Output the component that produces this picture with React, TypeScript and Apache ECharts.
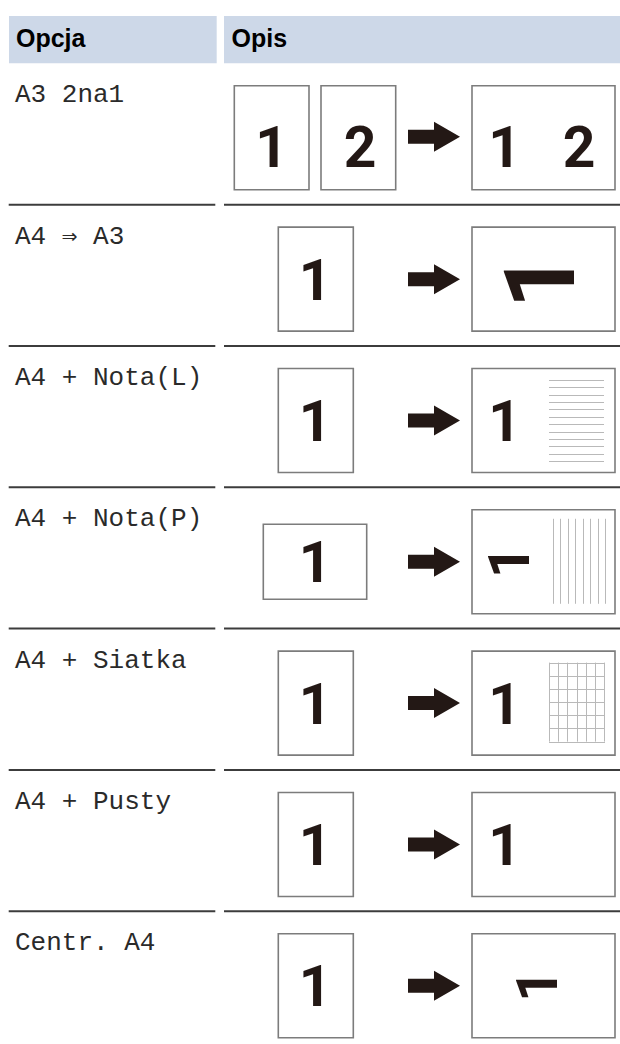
import React, { useEffect, useRef } from "react";
import * as echarts from "echarts";

// ---- table content ----
const headers = ["Opcja", "Opis"];
const optionLabels = [
  "A3 2na1",
  "A4 ⇒ A3",
  "A4 + Nota(L)",
  "A4 + Nota(P)",
  "A4 + Siatka",
  "A4 + Pusty",
  "Centr. A4",
];
// kind of source sheet per row
const sourceKinds = ["twoPortrait", "portrait", "portrait", "landscape", "portrait", "portrait", "portrait"];
// kind of result sheet per row
const resultKinds = ["twoUp", "rotatedLarge", "notesH", "notesV", "grid", "plain", "rotatedSmall"];
// ruled-lines count for note layouts, grid columns/rows
const noteLinesH = 12;
const noteLinesV = 8;
const gridCols = 6;
const gridRows = 6;

const INK = "#231815";
const PAGE_STROKE = "#7c7c7c";
const NOTE_STROKE = "#b9b9b9";
const RULE = "#3c3c3c";
const HEAD_BG = "#cdd8e8";
const DIGIT_FONT = 'Roboto, "Noto Sans", Arial, sans-serif';

function buildGraphics() {
  const els: any[] = [];
  const HEAD_TOP = 16;
  const HEAD_BOT = 63.3;
  const PITCH = 141.33;

  // header cells
  els.push({ type: "rect", shape: { x: 9, y: HEAD_TOP, width: 207.7, height: HEAD_BOT - HEAD_TOP }, style: { fill: HEAD_BG } });
  els.push({ type: "rect", shape: { x: 224, y: HEAD_TOP, width: 400, height: HEAD_BOT - HEAD_TOP }, style: { fill: HEAD_BG } });
  const headFont = { fontFamily: '"Liberation Sans", Arial, sans-serif', fontWeight: "bold", fontSize: 25, fill: "#000", verticalAlign: "middle", align: "left" };
  els.push({ type: "text", x: 16, y: 38, style: { ...headFont, text: headers[0] } });
  els.push({ type: "text", x: 231.5, y: 38, style: { ...headFont, text: headers[1] } });

  const page = (x: number, y: number, w: number, h: number) => ({
    type: "rect",
    shape: { x, y, width: w, height: h },
    style: { fill: "#fff", stroke: PAGE_STROKE, lineWidth: 1.6 },
  });
  const digit = (t: string, cx: number, cy: number, size: number, rot = 0) => ({
    type: "text",
    x: cx,
    y: cy,
    rotation: rot,
    style: {
      text: t,
      fontFamily: DIGIT_FONT,
      fontWeight: "bold",
      fontSize: size,
      fill: INK,
      align: "center",
      verticalAlign: "middle",
    },
  });
  const arrow = (cy: number) => ({
    type: "polygon",
    shape: {
      points: [
        [408, cy - 7],
        [434, cy - 7],
        [434, cy - 15],
        [460, cy],
        [434, cy + 15],
        [434, cy + 7],
        [408, cy + 7],
      ],
    },
    style: { fill: INK },
  });

  optionLabels.forEach((label, i) => {
    const T = HEAD_BOT + PITCH * i;
    if (i > 0) {
      els.push({ type: "line", shape: { x1: 8.7, y1: T, x2: 215.3, y2: T }, style: { stroke: RULE, lineWidth: 2 } });
      els.push({ type: "line", shape: { x1: 224, y1: T, x2: 620, y2: T }, style: { stroke: RULE, lineWidth: 2 } });
    }
    els.push({
      type: "text",
      x: 15,
      y: T + 32,
      style: {
        text: label,
        fontFamily: '"Courier New", "Liberation Mono", monospace',
        fontSize: 26,
        fill: "#2a2a2a",
        align: "left",
        verticalAlign: "middle",
      },
    });

    const pTop = T + 22.5;
    const pH = 104;
    const cy = pTop + pH / 2;
    const dCy = i === 0 ? T + 84 : T + 75.5;
    const oneDx = 1.7; // ink offset of bold "1"

    // source
    const sk = sourceKinds[i];
    if (sk === "twoPortrait") {
      els.push(page(234.3, pTop, 74.7, pH));
      els.push(digit("1", 270 + oneDx, dCy, 57));
      els.push(page(321, pTop, 74.7, pH));
      els.push(digit("2", 360, dCy, 57));
    } else if (sk === "portrait") {
      els.push(page(278.3, pTop, 75, pH));
      els.push(digit("1", 313.3 + oneDx, dCy, 57));
    } else {
      els.push(page(263.3, cy - 37.5, 103.4, 75));
      els.push(digit("1", 313.3 + oneDx, dCy, 57));
    }

    els.push(arrow(i === 0 ? T + 73.5 : cy));

    // result
    const rk = resultKinds[i];
    els.push(page(472, pTop, 143, pH));
    if (rk === "twoUp") {
      els.push(digit("1", 503 + oneDx, dCy, 57));
      els.push(digit("2", 579, dCy, 57));
    } else if (rk === "rotatedLarge") {
      els.push(digit("1", 540.3, T + 76, 98, Math.PI / 2));
    } else if (rk === "notesH") {
      els.push(digit("1", 503 + oneDx, dCy, 57));
      const y0 = pTop + 11.5;
      const step = (460.3 - 379.3) / (noteLinesH - 1);
      for (let k = 0; k < noteLinesH; k++) {
        const y = Math.round(y0 + k * step) + 0.5;
        els.push({ type: "line", shape: { x1: 549, y1: y, x2: 604, y2: y }, style: { stroke: NOTE_STROKE, lineWidth: 1 } });
      }
    } else if (rk === "notesV") {
      els.push(digit("1", 509.5, T + 74.6, 57, Math.PI / 2));
      const x0 = 552.7;
      const step = (605 - 552.7) / (noteLinesV - 1);
      for (let k = 0; k < noteLinesV; k++) {
        const x = Math.round(x0 + k * step) + 0.5;
        els.push({ type: "line", shape: { x1: x, y1: pTop + 9, x2: x, y2: pTop + 94 }, style: { stroke: NOTE_STROKE, lineWidth: 1 } });
      }
    } else if (rk === "grid") {
      els.push(digit("1", 503 + oneDx, dCy, 57));
      const gx0 = 549, gx1 = 604, gy0 = pTop + 11.5, gy1 = pTop + 90.5;
      for (let k = 0; k <= gridCols; k++) {
        const x = Math.round(gx0 + (k * (gx1 - gx0)) / gridCols) + 0.5;
        els.push({ type: "line", shape: { x1: x, y1: gy0, x2: x, y2: gy1 }, style: { stroke: NOTE_STROKE, lineWidth: 1 } });
      }
      for (let k = 0; k <= gridRows; k++) {
        const y = Math.round(gy0 + (k * (gy1 - gy0)) / gridRows) + 0.5;
        els.push({ type: "line", shape: { x1: gx0, y1: y, x2: gx1 + 1, y2: y }, style: { stroke: NOTE_STROKE, lineWidth: 1 } });
      }
    } else if (rk === "plain") {
      els.push(digit("1", 503 + oneDx, dCy, 57));
    } else if (rk === "rotatedSmall") {
      els.push(digit("1", 537.7, T + 74.5, 57, Math.PI / 2));
    }
  });
  return els;
}

export default function App() {
  const ref = useRef<HTMLDivElement>(null);
  useEffect(() => {
    if (!ref.current) return;
    const chart = echarts.init(ref.current, undefined, { renderer: "svg" });
    chart.setOption({
      animation: false,
      backgroundColor: "#ffffff",
      graphic: { elements: buildGraphics() },
    });
    return () => chart.dispose();
  }, []);
  return (
    <div
      ref={ref}
      style={{ position: "absolute", left: 0, top: 0, width: 620, height: 1044 }}
    />
  );
}
